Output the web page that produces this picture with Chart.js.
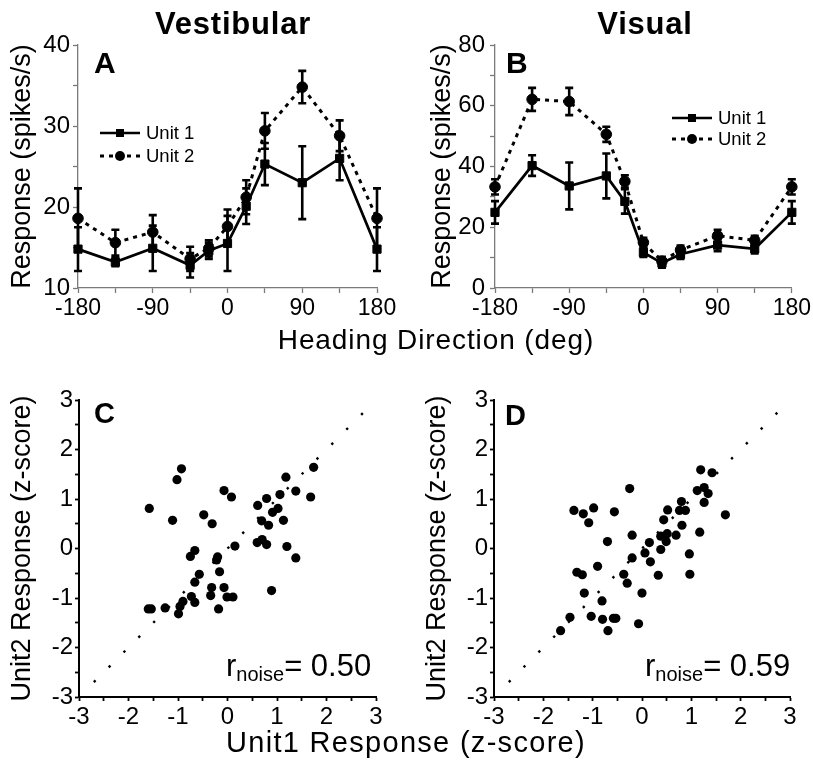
<!DOCTYPE html>
<html><head><meta charset="utf-8">
<script src="https://cdn.jsdelivr.net/npm/chart.js@4.4.1/dist/chart.umd.min.js"></script>
<style>
html,body{margin:0;padding:0;background:#fff;}
body{width:813px;height:767px;position:relative;overflow:hidden;font-family:"Liberation Sans",Arial,Helvetica,sans-serif;color:#000;}
canvas{position:absolute;}
.txt{position:absolute;line-height:1;white-space:nowrap;}
svg{position:absolute;overflow:visible;}
</style></head><body>
<canvas id="cA" width="400" height="380" style="left:0;top:0"></canvas>
<canvas id="cB" width="413" height="380" style="left:400px;top:0"></canvas>
<canvas id="cC" width="400" height="387" style="left:0;top:380px"></canvas>
<canvas id="cD" width="413" height="387" style="left:400px;top:380px"></canvas>

<div class="txt" style="left:133px;width:200px;top:8px;text-align:center;font-weight:bold;font-size:31px;letter-spacing:0.8px">Vestibular</div>
<div class="txt" style="left:545px;width:200px;top:8px;text-align:center;font-weight:bold;font-size:31px;letter-spacing:0.8px">Visual</div>

<div class="txt" style="left:94px;top:48px;font-weight:bold;font-size:30px">A</div>
<div class="txt" style="left:506px;top:48px;font-weight:bold;font-size:30px">B</div>
<div class="txt" style="left:94px;top:399px;font-weight:bold;font-size:29px">C</div>
<div class="txt" style="left:505px;top:401px;font-weight:bold;font-size:29px">D</div>

<!-- legend A -->
<svg style="left:100px;top:123px" width="40" height="20"><line x1="0" y1="10" x2="40" y2="10" stroke="#000" stroke-width="2.7"/><rect x="16" y="6" width="8" height="8" fill="#000"/></svg>
<div class="txt" style="left:146px;top:124px;font-size:18.5px">Unit 1</div>
<svg style="left:100px;top:146px" width="40" height="20"><line x1="0" y1="10" x2="40" y2="10" stroke="#000" stroke-width="3" stroke-dasharray="4 5"/><circle cx="20" cy="10" r="5" fill="#000"/></svg>
<div class="txt" style="left:146px;top:147px;font-size:18.5px">Unit 2</div>
<!-- legend B -->
<svg style="left:672px;top:108px" width="40" height="20"><line x1="0" y1="10" x2="40" y2="10" stroke="#000" stroke-width="2.7"/><rect x="16" y="6" width="8" height="8" fill="#000"/></svg>
<div class="txt" style="left:718px;top:109px;font-size:18.5px">Unit 1</div>
<svg style="left:672px;top:129px" width="40" height="20"><line x1="0" y1="10" x2="40" y2="10" stroke="#000" stroke-width="3" stroke-dasharray="4 5"/><circle cx="20" cy="10" r="5" fill="#000"/></svg>
<div class="txt" style="left:718px;top:130px;font-size:18.5px">Unit 2</div>

<div class="txt" style="left:236px;width:400px;top:326px;text-align:center;font-size:28px;letter-spacing:0.9px">Heading Direction (deg)</div>
<div class="txt" style="left:206px;width:400px;top:728px;text-align:center;font-size:29px;letter-spacing:1.3px">Unit1 Response (z-score)</div>

<div class="txt" style="left:226px;top:650px;font-size:31px">r<span style="font-size:20px;vertical-align:-5px">noise</span>= 0.50</div>
<div class="txt" style="left:645px;top:650px;font-size:31px">r<span style="font-size:20px;vertical-align:-5px">noise</span>= 0.59</div>

<script>
// ---------- data ----------
const headings = [-180, -135, -90, -45, -22.5, 0, 22.5, 45, 90, 135, 180];

const vestUnit1    = [14.8, 13.2, 14.9, 12.8, 14.6, 15.5, 20.1, 25.3, 23.0, 26.0, 14.8];
const vestUnit1Err = [2.7, 0.5, 2.8, 1.5, 1.0, 3.4, 2.2, 2.6, 4.5, 2.7, 2.7];
const vestUnit2    = [18.6, 15.6, 16.9, 13.6, 14.9, 17.6, 21.2, 29.4, 34.8, 28.8, 18.6];
const vestUnit2Err = [3.7, 1.6, 2.1, 1.5, 1.0, 2.1, 2.1, 2.2, 2.0, 1.9, 3.7];

const visUnit1    = [24.9, 40.3, 33.6, 36.9, 28.5, 11.7, 8.2, 11.1, 14.1, 12.9, 24.9];
const visUnit1Err = [3.7, 3.4, 7.7, 7.4, 4.0, 1.5, 1.5, 1.5, 2.0, 1.5, 3.7];
const visUnit2    = [33.3, 62.1, 61.4, 50.6, 35.1, 15.0, 8.8, 12.5, 17.2, 15.7, 33.3];
const visUnit2Err = [2.5, 3.8, 4.5, 2.5, 2.0, 1.5, 1.5, 1.5, 2.0, 1.5, 2.5];

const headingTickLabels = [-180, -90, 0, 90, 180];

const cX = [-0.93, -1.02, -0.07, 0.08, -1.58, -1.11, -0.48, -0.31, 0.15, -0.66, -0.75, -0.22, -0.20, -0.16, -0.57, -0.66,
            -0.32, -0.07, -0.34, -0.01, 0.11, -0.73, -0.66, -0.90, -0.96, -0.99, -0.18, -1.26, -1.60, -1.54,
            1.74, 1.18, 1.38, 1.68, 1.06, 0.79, 0.61, 1.02, 0.91, 1.13, 0.69, 0.83, 0.60, 0.70, 0.79, 1.20, 1.38, 0.89];
const cY = [1.61, 1.39, 1.17, 1.04, 0.81, 0.57, 0.68, 0.50, 0.05, -0.04, -0.16, -0.23, -0.17, -0.47, -0.52, -0.68,
            -0.79, -0.79, -0.95, -0.98, -0.98, -0.97, -1.09, -1.07, -1.17, -1.32, -1.22, -1.20, -1.22, -1.22,
            1.64, 1.44, 1.16, 1.04, 1.09, 1.01, 0.87, 0.81, 0.73, 0.57, 0.56, 0.47, 0.12, 0.18, 0.08, 0.04, -0.19, -0.85];

const dX = [-0.25, -1.38, -1.19, -0.98, -1.08, -0.56, -0.70, -0.20, 0.15, 0.06, -0.20, 0.17, -0.90, -1.32, -1.21, -0.37,
            -0.30, -1.17, -0.81, 0.00, -1.46, -1.03, -0.80, -0.58, -0.53, -0.07, -0.69, -1.65,
            1.19, 1.42, 1.12, 1.26, 1.34, 1.26, 0.80, 0.76, 0.88, 0.52, 1.69, 0.44, 0.81, 0.51, 0.38, 0.69, 1.17,
            0.49, 0.38, 0.96, 0.33, 0.97];
const dY = [1.21, 0.77, 0.70, 0.82, 0.52, 0.74, 0.14, 0.27, 0.12, -0.09, -0.19, -0.27, -0.36, -0.48, -0.53, -0.52,
            -0.70, -0.90, -1.06, -0.90, -1.39, -1.37, -1.43, -1.41, -1.41, -1.52, -1.66, -1.66,
            1.59, 1.53, 1.17, 1.23, 1.11, 0.93, 0.95, 0.77, 0.77, 0.78, 0.68, 0.58, 0.47, 0.30, 0.25, 0.27, 0.33,
            0.14, -0.02, -0.11, -0.54, -0.52];

const refLineX = [-2.7, 3];
const refLineY = [-2.7, 3];

// ---------- setup ----------
Chart.defaults.font.family = "'Liberation Sans', Arial, Helvetica, sans-serif";
Chart.defaults.color = '#000';
const AX = '#7a7a7a';

const errorBars = {
  id: 'errorBars',
  beforeDatasetsDraw(chart) {
    const ctx = chart.ctx, xs = chart.scales.x, ys = chart.scales.y;
    chart.data.datasets.forEach((ds) => {
      if (!ds.errors) return;
      ctx.save();
      ctx.strokeStyle = '#000';
      ctx.lineWidth = 2.6;
      ctx.setLineDash([]);
      ds.data.forEach((p, j) => {
        const e = ds.errors[j];
        const x = xs.getPixelForValue(p.x);
        const y1 = ys.getPixelForValue(p.y + e);
        const y2 = ys.getPixelForValue(p.y - e);
        ctx.beginPath();
        ctx.moveTo(x, y1); ctx.lineTo(x, y2);
        ctx.moveTo(x - 4, y1); ctx.lineTo(x + 4, y1);
        ctx.moveTo(x - 4, y2); ctx.lineTo(x + 4, y2);
        ctx.stroke();
      });
      ctx.restore();
    });
  }
};

function tuning(id, u1, e1, u2, e2, o) {
  return new Chart(document.getElementById(id), {
    type: 'line',
    data: { datasets: [
      { label: 'Unit 1', data: headings.map((h, i) => ({ x: h, y: u1[i] })), errors: e1,
        borderColor: '#000', backgroundColor: '#000', borderWidth: 2.7, pointStyle: 'rect',
        pointRadius: 5.8, pointBorderWidth: 1, clip: false },
      { label: 'Unit 2', data: headings.map((h, i) => ({ x: h, y: u2[i] })), errors: e2,
        borderColor: '#000', backgroundColor: '#000', borderWidth: 3, borderDash: [4, 5], pointStyle: 'circle',
        pointRadius: 5.3, pointBorderWidth: 1, clip: false }
    ]},
    options: {
      responsive: false, animation: false, events: [],
      layout: { padding: { top: 45, right: o.padRight, left: 0, bottom: 0 } },
      plugins: { legend: { display: false }, tooltip: { enabled: false } },
      scales: {
        x: { type: 'linear', min: -180, max: 180,
             afterFit: s => { s.height = 92; },
             ticks: { stepSize: 45, autoSkip: false, maxRotation: 0, padding: 2, font: { size: 23 },
                      callback: v => headingTickLabels.includes(v) ? String(v) : '' },
             grid: { drawOnChartArea: false, tickLength: 5, tickColor: AX, tickWidth: 1.3 },
             border: { color: AX, width: 1.3 } },
        y: { type: 'linear', min: o.ymin, max: o.ymax,
             afterFit: s => { s.width = o.yWidth; },
             ticks: { stepSize: o.ystep, autoSkip: false, padding: o.yPad, font: { size: 24 },
                      callback: v => (v % o.ylab === 0) ? String(v) : '' },
             grid: { drawOnChartArea: false, tickLength: 5, tickColor: AX, tickWidth: 1.3 },
             border: { color: AX, width: 1.3 },
             title: { display: true, text: 'Response (spikes/s)', font: { size: 27 }, padding: { top: o.titlePad, bottom: 0 } } }
      }
    },
    plugins: [errorBars]
  });
}

tuning('cA', vestUnit1, vestUnit1Err, vestUnit2, vestUnit2Err,
  { padRight: 23, ymin: 10, ymax: 40, ystep: 5, ylab: 10, yWidth: 78, yPad: 3, titlePad: 6 });
tuning('cB', visUnit1, visUnit1Err, visUnit2, visUnit2Err,
  { padRight: 21, ymin: 0, ymax: 80, ystep: 10, ylab: 20, yWidth: 95, yPad: 5, titlePad: 26 });

function scatter(id, xs, ys, o) {
  return new Chart(document.getElementById(id), {
    type: 'scatter',
    data: { datasets: [
      { type: 'line', data: refLineX.map((x, i) => ({ x, y: refLineY[i] })), borderColor: '#000',
        borderWidth: 2.4, borderDash: [2.4, 18.6], pointRadius: 0, clip: false },
      { data: xs.map((x, i) => ({ x, y: ys[i] })), backgroundColor: '#000', borderColor: '#000',
        pointRadius: 4.6, borderWidth: 0, clip: false }
    ]},
    options: {
      responsive: false, animation: false, events: [],
      layout: { padding: { top: 20, right: o.padRight, left: 0, bottom: 0 } },
      plugins: { legend: { display: false }, tooltip: { enabled: false } },
      scales: {
        x: { type: 'linear', min: -3, max: 3,
             afterFit: s => { s.height = 70; },
             ticks: { stepSize: 0.5, autoSkip: false, maxRotation: 0, padding: 2, font: { size: 24 },
                      callback: v => Number.isInteger(v) ? String(v) : '' },
             grid: { drawOnChartArea: false, tickLength: 4, tickColor: '#000', tickWidth: 1.8 },
             border: { color: '#000', width: 2 } },
        y: { type: 'linear', min: -3, max: 3,
             afterFit: s => { s.width = o.yWidth; },
             ticks: { stepSize: 0.5, autoSkip: false, padding: 2, font: { size: 24 },
                      callback: v => Number.isInteger(v) ? String(v) : '' },
             grid: { drawOnChartArea: false, tickLength: 4, tickColor: '#000', tickWidth: 1.8 },
             border: { color: '#000', width: 2 },
             title: { display: true, text: 'Unit2 Response (z-score)', font: { size: 27 }, padding: { top: o.titlePad, bottom: 0 } } }
      }
    }
  });
}

scatter('cC', cX, cY, { padRight: 24, yWidth: 79, titlePad: 6 });
scatter('cD', dX, dY, { padRight: 23, yWidth: 94, titlePad: 21 });
</script>
</body></html>
